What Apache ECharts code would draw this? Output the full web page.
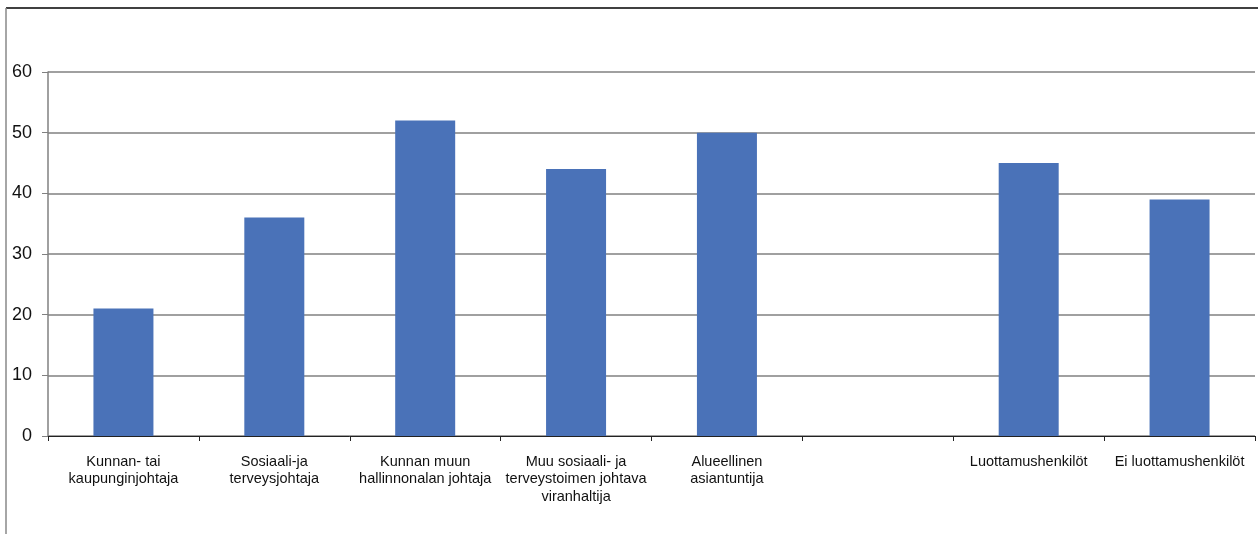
<!DOCTYPE html>
<html>
<head>
<meta charset="utf-8">
<script src="https://cdn.jsdelivr.net/npm/echarts@6/dist/echarts.min.js"></script>
<style>
html,body{margin:0;padding:0;background:#fff;}
#chart{width:1258px;height:534px;}
</style>
</head>
<body>
<div id="chart"></div>
<script>
const categories = [
  "Kunnan- tai\nkaupunginjohtaja",
  "Sosiaali-ja\nterveysjohtaja",
  "Kunnan muun\nhallinnonalan johtaja",
  "Muu sosiaali- ja\nterveystoimen johtava\nviranhaltija",
  "Alueellinen\nasiantuntija",
  "",
  "Luottamushenkilöt",
  "Ei luottamushenkilöt"
];
const values = [21, 36, 52, 44, 50, null, 45, 39];
const yTicks = { min: 0, max: 60, interval: 10 };

const chart = echarts.init(document.getElementById('chart'));
chart.setOption({
  animation: false,
  backgroundColor: '#fff',
  textStyle: { fontFamily: 'Liberation Sans, Arial, sans-serif' },
  graphic: [
    { type: 'line', shape: { x1: 6, y1: 8, x2: 1258, y2: 8 }, style: { stroke: '#000', lineWidth: 1.5 } },
    { type: 'line', shape: { x1: 6, y1: 8, x2: 6, y2: 534 }, style: { stroke: '#888', lineWidth: 1.5 } }
  ],
  grid: { left: 48, right: 3, top: 72, bottom: 98, containLabel: false },
  xAxis: {
    type: 'category',
    data: categories,
    axisLine: { lineStyle: { color: '#222', width: 1 } },
    axisTick: { show: true, length: 5, alignWithLabel: false, lineStyle: { color: '#222' } },
    axisLabel: {
      interval: 0, color: '#111', fontSize: 14.5, lineHeight: 17.5, margin: 17,
      fontFamily: 'Liberation Sans, Arial, sans-serif'
    },
    splitLine: { show: false }
  },
  yAxis: {
    type: 'value',
    min: yTicks.min, max: yTicks.max, interval: yTicks.interval,
    axisLine: { show: true, lineStyle: { color: '#808080', width: 1.5 } },
    axisTick: { show: true, length: 6, lineStyle: { color: '#808080' } },
    axisLabel: { color: '#111', fontSize: 18, margin: 16, fontFamily: 'Liberation Sans, Arial, sans-serif' },
    splitLine: { show: true, lineStyle: { color: '#808080', width: 1.5 } }
  },
  series: [{
    type: 'bar',
    data: values,
    barWidth: 60,
    itemStyle: { color: '#4A72B8' }
  }]
});
</script>
</body>
</html>
